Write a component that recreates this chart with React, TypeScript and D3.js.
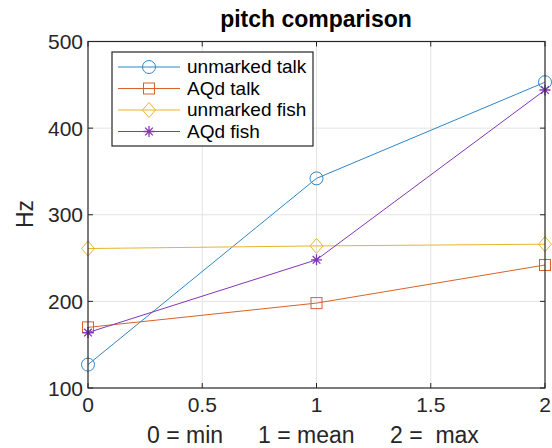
import React from "react";
import * as d3 from "d3";

const xValues = [0, 1, 2];
const unmarkedTalk = [127, 342, 453];
const aqdTalk = [170, 198, 242];
const unmarkedFish = [261, 264, 266];
const aqdFish = [164, 248, 444];
const seriesNames = ["unmarked talk", "AQd talk", "unmarked fish", "AQd fish"];
const xTicks = [0, 0.5, 1, 1.5, 2];
const yTicks = [100, 200, 300, 400, 500];
const titleText = "pitch comparison";
const yLabel = "Hz";
const xLabelParts = ["0 = min", "1 = mean", "2 =  max"];

const W = 552, H = 448;
const L = 88, R = 545, T = 41.5, B = 388;
const AX = "#262626";
const FONT = "'Liberation Sans', Arial, Helvetica, sans-serif";

const colors = ["#2f86c6", "#d9612a", "#e6b42e", "#8236b8"];
const markers = ["circle", "square", "diamond", "star"];
const seriesData = [unmarkedTalk, aqdTalk, unmarkedFish, aqdFish];

function Marker({ type, x, y, color }: { type: string; x: number; y: number; color: string }) {
  if (type === "circle") return <circle cx={x} cy={y} r={6.5} fill="none" stroke={color} strokeWidth={1} />;
  if (type === "square") return <rect x={x - 5.5} y={y - 5.5} width={11} height={11} fill="none" stroke={color} strokeWidth={1} />;
  if (type === "diamond")
    return <path d={`M${x},${y - 7.5}L${x + 6.5},${y}L${x},${y + 7.5}L${x - 6.5},${y}Z`} fill="none" stroke={color} strokeWidth={1} />;
  const r = 5.5, d = r * 0.7;
  return (
    <path
      d={`M${x - r},${y}L${x + r},${y}M${x},${y - r}L${x},${y + r}M${x - d},${y - d}L${x + d},${y + d}M${x - d},${y + d}L${x + d},${y - d}`}
      stroke={color}
      strokeWidth={1.3}
      fill="none"
    />
  );
}

export default function App() {
  const x = d3.scaleLinear().domain([0, 2]).range([L, R]);
  const y = d3.scaleLinear().domain([100, 500]).range([B, T]);
  const line = d3.line<number>().x((_, i) => x(xValues[i])).y((d) => y(d));

  const legX = 112, legY = 52, legW = 201, legH = 94;
  const rowY = [67, 88.5, 110, 131.5];
  const xLabelStarts = [147, 258, 390];

  return (
    <svg width={W} height={H} style={{ position: "absolute", left: 0, top: 0, background: "#fff" }} fontFamily={FONT}>
      <rect x={0} y={0} width={W} height={H} fill="#fff" />
      {/* grid */}
      {xTicks.slice(1, -1).map((t) => (
        <line key={"gx" + t} x1={x(t)} x2={x(t)} y1={T} y2={B} stroke="#e3e3e3" strokeWidth={1} />
      ))}
      {yTicks.slice(1, -1).map((t) => (
        <line key={"gy" + t} x1={L} x2={R} y1={y(t)} y2={y(t)} stroke="#e3e3e3" strokeWidth={1} />
      ))}
      {/* series */}
      {seriesData.map((s, i) => (
        <g key={"s" + i}>
          <path d={line(s) || ""} fill="none" stroke={colors[i]} strokeWidth={1} />
          {s.map((v, j) => (
            <Marker key={j} type={markers[i]} x={x(xValues[j])} y={y(v)} color={colors[i]} />
          ))}
        </g>
      ))}
      {/* axes box */}
      <rect x={L} y={T} width={R - L} height={B - T} fill="none" stroke={AX} strokeWidth={1.2} />
      {xTicks.map((t) => (
        <g key={"xt" + t}>
          <line x1={x(t)} x2={x(t)} y1={B} y2={B - 5} stroke={AX} />
          <line x1={x(t)} x2={x(t)} y1={T} y2={T + 5} stroke={AX} />
          <text x={x(t)} y={412} textAnchor="middle" fontSize={21} fill={AX}>
            {String(t)}
          </text>
        </g>
      ))}
      {yTicks.map((t) => (
        <g key={"yt" + t}>
          <line x1={L} x2={L + 5} y1={y(t)} y2={y(t)} stroke={AX} />
          <line x1={R} x2={R - 5} y1={y(t)} y2={y(t)} stroke={AX} />
          <text x={83} y={y(t) + 7.5} textAnchor="end" fontSize={21} fill={AX}>
            {String(t)}
          </text>
        </g>
      ))}
      {/* title */}
      <text x={(L + R) / 2 - 0.5} y={27} textAnchor="middle" fontSize={23} fontWeight="bold" fill="#000">
        {titleText}
      </text>
      {/* labels */}
      <text y={443} fontSize={23} fill={AX}>
        {xLabelParts.map((p, i) => (
          <tspan key={i} x={xLabelStarts[i]} style={{ whiteSpace: "pre" }}>
            {p}
          </tspan>
        ))}
      </text>
      <text transform={`translate(33,214) rotate(-90)`} textAnchor="middle" fontSize={23} fill={AX}>
        {yLabel}
      </text>
      {/* legend */}
      <rect x={legX} y={legY} width={legW} height={legH} fill="#fff" stroke={AX} strokeWidth={1.2} />
      {seriesNames.map((n, i) => (
        <g key={"l" + i}>
          <line x1={118} x2={180} y1={rowY[i]} y2={rowY[i]} stroke={colors[i]} strokeWidth={1} />
          <Marker type={markers[i]} x={149} y={rowY[i]} color={colors[i]} />
          <text x={187} y={rowY[i] + 6} fontSize={19} fill="#000">
            {n}
          </text>
        </g>
      ))}
    </svg>
  );
}
